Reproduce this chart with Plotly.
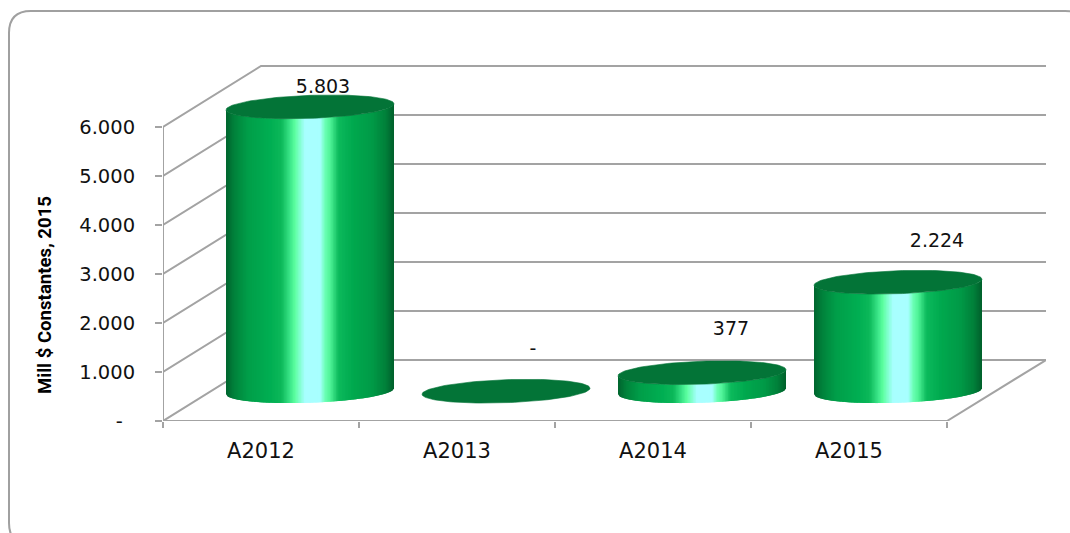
import numpy as np
import plotly.graph_objects as go

categories = ["A2012", "A2013", "A2014", "A2015"]
values = [5803, 0, 377, 2224]
y_ticks = [0, 1000, 2000, 3000, 4000, 5000, 6000]
y_tick_labels = ["-\u00a0\u00a0", "1.000", "2.000", "3.000", "4.000", "5.000", "6.000"]
value_labels = ["5.803", "-", "377", "2.224"]
y_title = "Mill $ Constantes, 2015"

# ---- pixel geometry of the frame
W, H = 1070, 533
PL, PR, PT, PB = 163, 1046, 60, 421
PX_X = 196.0            # pixels per category
PX_Y = 49.0 / 1000      # pixels per unit
DX = 98 / PX_X          # oblique depth, x units
DY = 61 / PX_Y          # oblique depth, y units
GRID = "#a3a3a3"
TEXT = "#111111"
TOP = "#037437"
R = 84 / PX_X
EH = 11.5 / PX_Y
TILT = 3.0 / PX_Y
STOPS = [(0.0, "#00642e"), (0.05, "#00823b"), (0.13, "#009e49"), (0.26, "#00ae52"),
         (0.33, "#0cb85a"), (0.385, "#3fe98c"), (0.41, "#5cff9f"), (0.44, "#82ffd0"),
         (0.47, "#a8ffff"), (0.56, "#a8ffff"), (0.59, "#6affb4"), (0.62, "#4ff397"),
         (0.67, "#0cba5c"), (0.76, "#00a84e"), (0.87, "#009a47"), (0.95, "#00803a"),
         (1.0, "#005f2b")]
XMIN = -0.5
XMAX = XMIN + (PR - PL) / PX_X
YMAX = (PB - PT) / PX_Y


def colour(t):
    pos = [s[0] for s in STOPS]
    rgb = [[int(s[1][i:i + 2], 16) for s in STOPS] for i in (1, 3, 5)]
    return "rgb(%d,%d,%d)" % tuple(round(float(np.interp(t, pos, c))) for c in rgb)


fig = go.Figure()


def line(xs, ys):
    fig.add_trace(go.Scatter(x=xs, y=ys, mode="lines", hoverinfo="skip",
                             line=dict(color=GRID, width=2), cliponaxis=False))


# walls and floor
gx, gy = [], []
x_left, x_right = XMIN, XMIN + len(categories)
for v in y_ticks:
    gx += [x_left, x_left + DX, XMAX, None]
    gy += [v, v + DY, v + DY, None]
gx += [x_right, XMAX, None, x_left, x_left, None, x_left, x_right]
gy += [0, DY, None, 0, max(y_ticks), None, 0, 0]
line(gx, gy)

# cylinders: strips painted left to right, each overlapping the next so no seams show
N = 110
for i, v in enumerate(values):
    cx = i + DX / 2
    cy = DY / 2 - 0.7 / PX_Y
    edges = np.linspace(-1, 1, N + 1)
    step = edges[1] - edges[0]
    if v > 0:
        for a, b in zip(edges[:-1], edges[1:]):
            us = np.clip(np.array([a, b, b + step]), -1, 1)
            lo = cy + TILT * us - EH * np.sqrt(np.maximum(0.0, 1 - us * us))
            xs = list(cx + R * us) + list(cx + R * us[::-1])
            ys = list(lo) + list((lo + v)[::-1])
            fig.add_trace(go.Scatter(x=xs, y=ys, mode="lines", fill="toself",
                                     fillcolor=colour((a + b + 2) / 4),
                                     line=dict(width=0), hoverinfo="skip"))
    th = np.linspace(0, 2 * np.pi, 121)
    fig.add_trace(go.Scatter(x=cx + R * np.cos(th),
                             y=cy + v + TILT * np.cos(th) + EH * np.sin(th),
                             mode="lines", fill="toself", fillcolor=TOP,
                             line=dict(color=TOP, width=0.6), hoverinfo="skip"))

# value labels (Excel places them by hand, offsets in pixels from the cylinder top)
label_dx = [13, 27, 29, 39]
label_dy = [19, 41, 42, 40]
fig.add_trace(go.Scatter(
    x=[i + DX / 2 + d / PX_X for i, d in enumerate(label_dx)],
    y=[DY / 2 + v + d / PX_Y - 0.7 / PX_Y for v, d in zip(values, label_dy)],
    mode="text", text=value_labels, textposition="middle center", hoverinfo="skip",
    textfont=dict(family="DejaVu Sans", size=19, color=TEXT), cliponaxis=False))

# rounded outer frame, running off the right and bottom of the picture
x0, y0, x1, y1, r = 9, 11, 1087, 545, 22
fx = lambda p: (p - PL) / (PR - PL)
fy = lambda p: (PB - p) / (PB - PT)
frame = (f"M {fx(x0)} {fy(y0 + r)} Q {fx(x0)} {fy(y0)} {fx(x0 + r)} {fy(y0)} "
         f"L {fx(x1 - r)} {fy(y0)} Q {fx(x1)} {fy(y0)} {fx(x1)} {fy(y0 + r)} "
         f"L {fx(x1)} {fy(y1 - r)} Q {fx(x1)} {fy(y1)} {fx(x1 - r)} {fy(y1)} "
         f"L {fx(x0 + r)} {fy(y1)} Q {fx(x0)} {fy(y1)} {fx(x0)} {fy(y1 - r)} Z")

fig.update_layout(
    width=W, height=H, showlegend=False, paper_bgcolor="white", plot_bgcolor="white",
    margin=dict(l=PL, r=W - PR, t=PT, b=H - PB, autoexpand=False),
    shapes=[dict(type="path", path=frame, xref="paper", yref="paper",
                 line=dict(color="#a0a0a0", width=2), layer="below")],
    annotations=[dict(text="<b>" + y_title + "</b>", textangle=-90, showarrow=False,
                      xref="paper", yref="paper", x=fx(45), y=fy(295),
                      xanchor="center", yanchor="middle",
                      font=dict(family="Liberation Sans Narrow, Roboto", size=18.6, color="#000000"))],
    xaxis=dict(range=[XMIN, XMAX], showgrid=False, zeroline=False, showline=False,
               tickmode="array", tickvals=list(range(len(categories))), ticktext=categories,
               ticks="", ticklabelstandoff=15,
               tickfont=dict(family="DejaVu Sans", size=21, color=TEXT),
               minor=dict(tickmode="array", tickvals=[XMIN + k for k in range(len(categories) + 1)],
                          ticks="outside", ticklen=6, tickwidth=2, tickcolor=GRID)),
    yaxis=dict(range=[0, YMAX], showgrid=False, zeroline=False, showline=False,
               tickmode="array", tickvals=y_ticks, ticktext=y_tick_labels,
               ticks="outside", ticklen=7, tickwidth=2, tickcolor=GRID, ticklabelstandoff=16,
               tickfont=dict(family="DejaVu Sans", size=19.5, color=TEXT)),
)

fig.write_html("out.html", config=dict(displayModeBar=False),
               post_script="document.body.style.margin='0';document.body.style.overflow='hidden';")
